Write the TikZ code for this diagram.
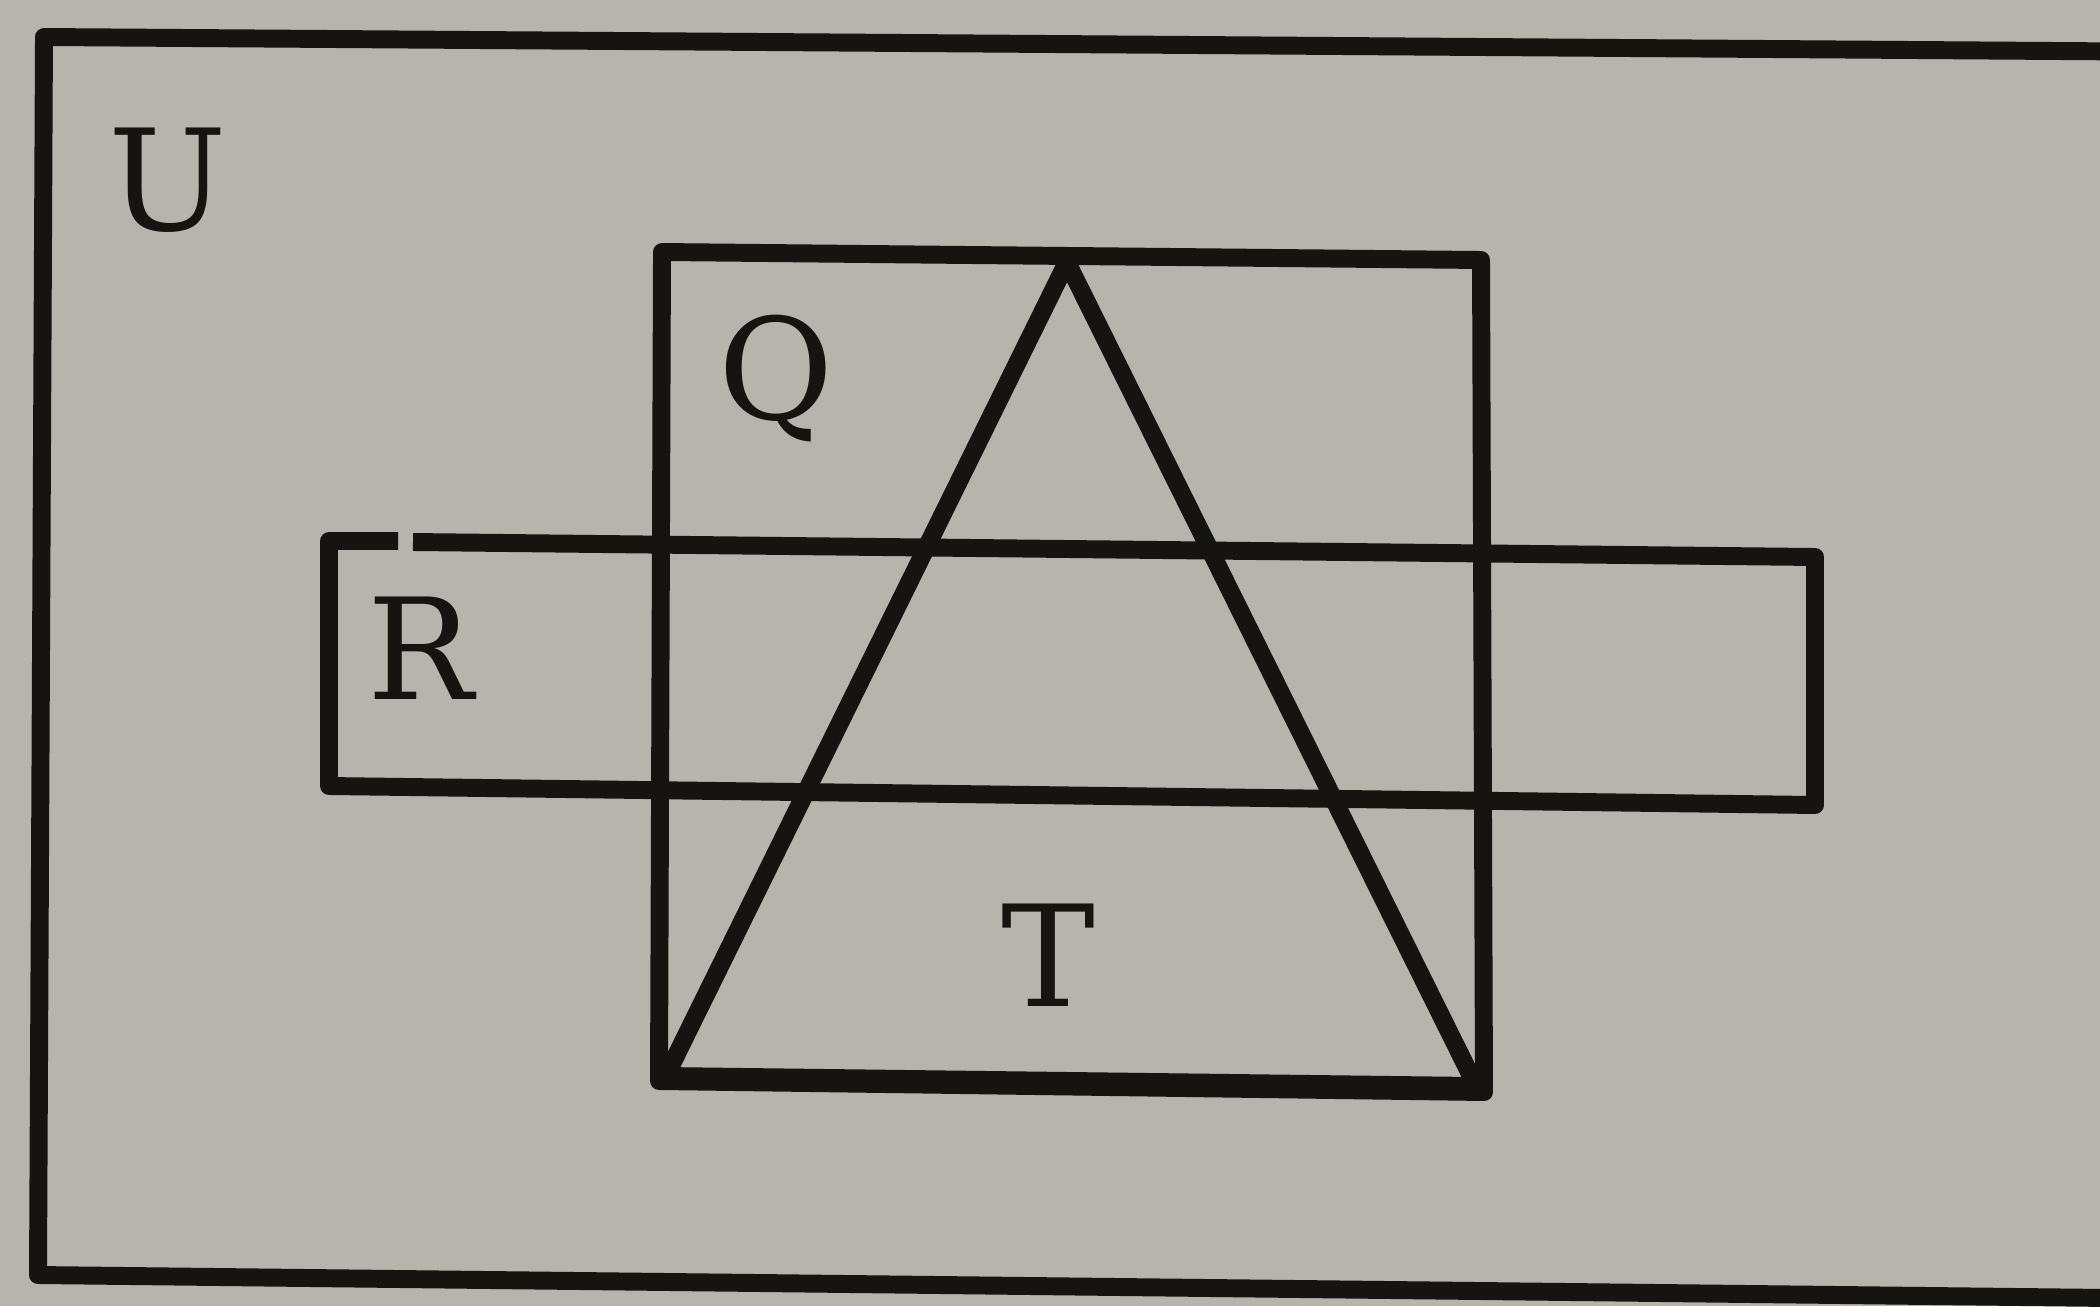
\documentclass[tikz,border=0pt]{standalone}
\usepackage{fontspec}
\newfontfamily\labelfont{DejaVu Serif}
\definecolor{paper}{RGB}{182,180,172}
\definecolor{ink}{RGB}{22,20,17}
\tikzset{
  setline/.style={draw=ink, line width=5.1pt, line join=round, line cap=butt},
  setlabel/.style={text=ink, font=\labelfont\fontsize{40}{44}\selectfont, anchor=base, inner sep=0pt}
}
\begin{document}
\begin{tikzpicture}[x=0.01cm, y=-0.01cm]
  \useasboundingbox (0,0) rectangle (2100,1306);
  \clip (0,0) rectangle (2100,1306);
  \fill[paper] (0,0) rectangle (2100,1306);
  % universal set U
  \draw[setline] (2200,52) -- (44,37) -- (38,1275) -- (2200,1299);
  % set Q (square)
  \draw[setline] (662,252) -- (1481,260) -- (1484,1092) -- (659,1081) -- cycle;
  % set R (long rectangle), with the small break in its top edge
  \draw[setline] (413,542) -- (1815,557) -- (1815,805) -- (329,786) -- (329,541) -- (398,541);
  % set T (triangle)
  \draw[setline] (1067,262) -- (1476,1086) -- (666,1076) -- cycle;
  % labels
  \node[setlabel] (labU) at (168,230) {U};
  \node[setlabel] (labQ) at (776,419) {Q};
  \node[setlabel] (labR) at (420,699) {R};
  \node[setlabel] (labT) at (1048,1006) {T};
\end{tikzpicture}
\end{document}
